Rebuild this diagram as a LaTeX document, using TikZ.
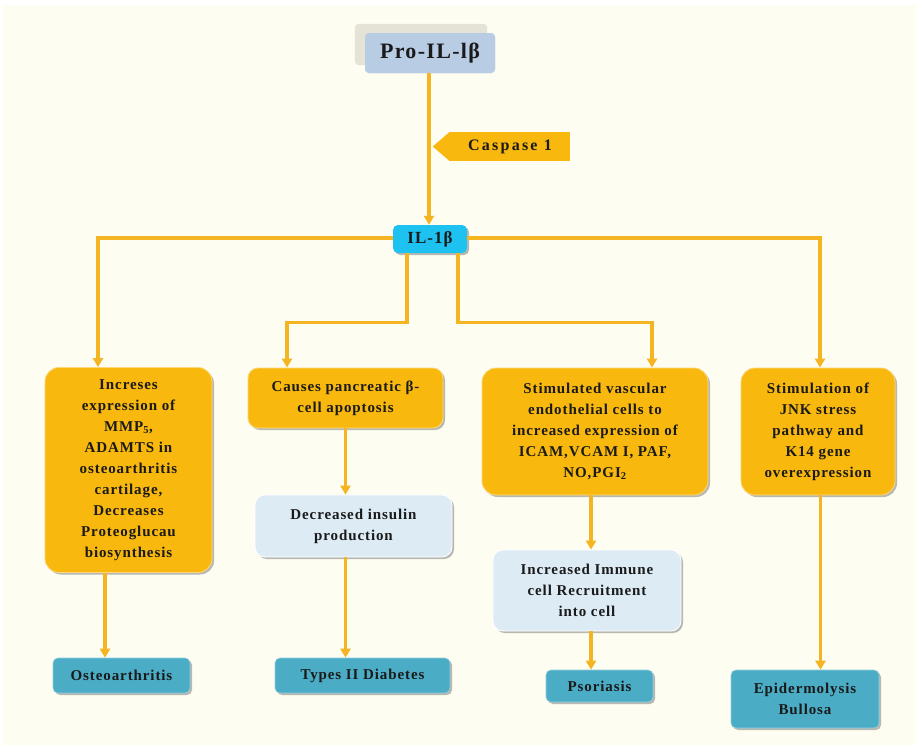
\documentclass[tikz,border=0pt]{standalone}
\usepackage{fontspec}
\setmainfont{Liberation Serif}[LetterSpace=6]
\usetikzlibrary{arrows.meta,shadows}
\definecolor{cream}{HTML}{FDFDF1}
\definecolor{gold}{HTML}{F9B80E}
\definecolor{flow}{HTML}{F5B522}
\definecolor{paleblue}{HTML}{DDEBF5}
\definecolor{diseaseblue}{HTML}{4BACC6}
\definecolor{cyanbox}{HTML}{1DC2F0}
\definecolor{probox}{HTML}{B8CCE4}
\definecolor{proshade}{HTML}{E5E3D6}
\definecolor{ink}{HTML}{1A1A1A}
\begin{document}
\begin{tikzpicture}[x=1pt,y=-1pt,
    font=\bfseries\fontsize{15}{21}\selectfont,
    every node/.style={align=center,text=ink,inner sep=2pt},
    shade/.style={drop shadow={shadow xshift=2pt,shadow yshift=-2pt,fill=black!50,opacity=.55}},
    effect/.style={fill=gold,draw=gold!55!white,line width=.8pt,rounded corners=14pt,shade},
    result/.style={fill=paleblue,draw=white,line width=.8pt,rounded corners=10pt,shade},
    disease/.style={fill=diseaseblue,draw=diseaseblue!60!white,line width=.6pt,rounded corners=5pt,shade},
    link/.style={draw=flow,line width=3.2pt,-{Triangle[length=9pt,width=10pt]}}]
    \useasboundingbox (0,0) rectangle (916,745);
    \fill[white] (0,0) rectangle (916,745);
    \fill[cream] (3,5) rectangle (916,745);

    % top of the cascade
    \node[fill=probox,rounded corners=4pt,minimum width=130,minimum height=40,
          font=\bfseries\fontsize{22}{26}\selectfont] (pro) at (430,53) {};
    \fill[proshade,rounded corners=4pt] ([shift={(-10,-8)}]pro.south west) rectangle ([shift={(-8,-9)}]pro.north east);
    \node[fill=probox,rounded corners=4pt,minimum width=130,minimum height=40,
          font=\bfseries\fontsize{22}{26}\selectfont] (pro) at (430,53) {Pro-IL-lβ};

    \node[fill=gold,minimum width=120,minimum height=29,inner sep=0pt,
          font=\bfseries\fontsize{16}{19}\selectfont\addfontfeatures{LetterSpace=14}] (casp) at (510,146.5) {Caspase 1};
    \fill[gold] (casp.north west) -- ([xshift=-17pt]casp.west) -- (casp.south west) -- cycle;

    \node[fill=cyanbox,rounded corners=5pt,minimum width=74,minimum height=28,shade,
          font=\bfseries\fontsize{17}{19}\selectfont] (il) at (430,239) {IL-1β};

    % effects
    \node[effect,minimum width=167,minimum height=205] (A) at (128.5,470)
        {Increses\\expression of\\MMP\textsubscript{5},\\ADAMTS in\\osteoarthritis\\cartilage,\\Decreases\\Proteoglucau\\biosynthesis};
    \node[effect,rounded corners=10pt,minimum width=195,minimum height=60] (B) at (345.5,398)
        {Causes pancreatic β-\\cell apoptosis};
    \node[effect,minimum width=226,minimum height=127] (C) at (595,431.5)
        {Stimulated vascular\\endothelial cells to\\increased expression of\\ICAM,VCAM I, PAF,\\NO,PGI\textsubscript{2}};
    \node[effect,minimum width=154,minimum height=127] (D) at (818,431.5)
        {Stimulation of\\JNK stress\\pathway and\\K14 gene\\overexpression};

    \node[result,minimum width=197,minimum height=62] (dec) at (353.5,526) {Decreased insulin\\production};
    \node[result,minimum width=188,minimum height=81] (imm) at (587,590.5) {Increased Immune\\cell Recruitment\\into cell};

    % diseases
    \node[disease,minimum width=137,minimum height=35] (osteo) at (121.5,675.5) {Osteoarthritis};
    \node[disease,minimum width=175,minimum height=35] (diab) at (362.5,675.5) {Types II Diabetes};
    \node[disease,minimum width=107,minimum height=32] (psor) at (599.5,686) {Psoriasis};
    \node[disease,minimum width=148,minimum height=58] (epid) at (805,699) {Epidermolysis\\Bullosa};

    % connectors
    \draw[link] ([xshift=-1pt]pro.south) -- ([xshift=-1pt]il.north);
    \draw[link] ([yshift=1pt]il.west) -| ([xshift=-30.5pt]A.north);
    \draw[link] ([yshift=1pt]il.east) -| ([xshift=2pt]D.north);
    \draw[link] ([xshift=-23pt]il.south) -- ++(0,69) -| ([xshift=-58.5pt]B.north);
    \draw[link] ([xshift=28pt]il.south) -- ++(0,69) -| ([xshift=57pt]C.north);
    \draw[link] ([xshift=-23.5pt]A.south) -- ([xshift=-23.5pt]A.south |- osteo.north);
    \draw[link] (B.south) -- (B.south |- dec.north);
    \draw[link] ([xshift=-8pt]dec.south) -- ([xshift=-8pt]dec.south |- diab.north);
    \draw[link] ([xshift=-4pt]C.south) -- ([xshift=-4pt]C.south |- imm.north);
    \draw[link] ([xshift=4pt]imm.south) -- ([xshift=4pt]imm.south |- psor.north);
    \draw[link] ([xshift=2.5pt]D.south) -- ([xshift=2.5pt]D.south |- epid.north);
\end{tikzpicture}
\end{document}
